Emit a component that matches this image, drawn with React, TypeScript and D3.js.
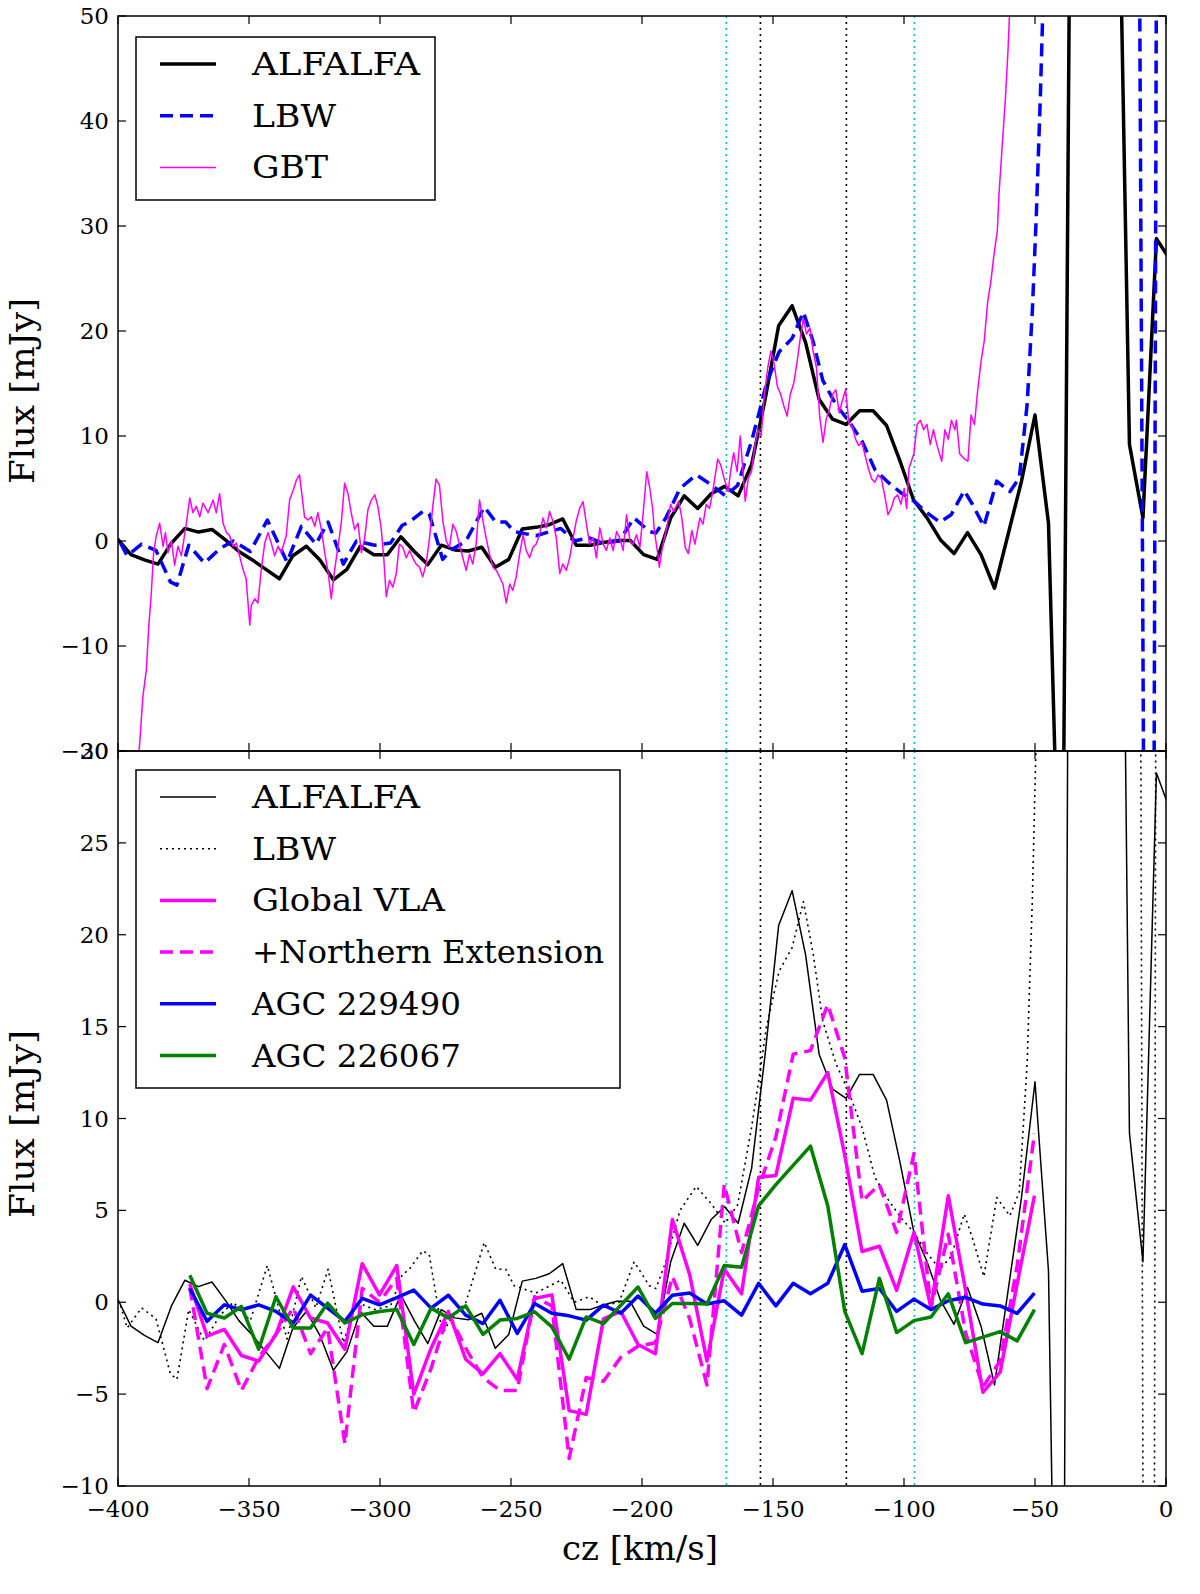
import React from "react";
import * as d3 from "d3";

// ---------------- DATA ----------------
const ALFALFA_CZ = [-400.2, -395.05, -389.9, -384.75, -379.6, -374.45, -369.3, -364.15, -359.0, -353.85, -348.7, -343.55, -338.4, -333.25, -328.1, -322.95, -317.8, -312.65, -307.5, -302.35, -297.2, -292.05, -286.9, -281.75, -276.6, -271.45, -266.3, -261.15, -256.0, -250.85, -245.7, -240.55, -235.4, -230.25, -225.1, -219.95, -214.8, -209.65, -204.5, -199.35, -194.2, -189.05, -183.9, -178.75, -173.6, -168.45, -163.3, -158.15, -153.0, -147.85, -142.7, -137.55, -132.4, -127.25, -122.1, -116.95, -111.8, -106.65, -101.5, -96.35, -91.2, -86.05, -80.9, -75.75, -70.6, -65.45, -60.3, -55.15, -50.0, -44.85, -39.7, -34.55, -29.4, -24.25, -19.1, -13.95, -8.8, -3.65, 1.5];
const ALFALFA_FLUX = [0.2, -1.3, -1.8, -2.2, -0.2, 1.2, 0.85, 1.1, 0.1, -1.0, -1.8, -2.7, -3.6, -1.4, -0.5, -1.8, -3.7, -2.7, -0.5, -1.3, -1.3, 0.4, -1.0, -2.25, -0.4, -0.85, -0.95, -0.6, -2.5, -1.75, 1.15, 1.3, 1.55, 2.1, -0.4, -0.4, -0.15, 0.05, 0.05, -1.3, -1.75, 2.2, 4.3, 3.1, 4.5, 5.2, 4.3, 7.3, 13.5, 20.5, 22.4, 18.9, 13.5, 11.6, 11.1, 12.4, 12.4, 11.0, 7.6, 3.9, 2.2, 0.1, -1.2, 0.8, -1.3, -4.5, 0.6, 5.7, 12.0, 1.7, -45, 135, 300, 300, 80, 9.2, 2.2, 28.8, 26.8];

const LBW_CZ = [-399, -396.5, -391, -385.5, -380, -377.5, -373, -367, -361, -356, -349.5, -343, -335.5, -330, -324.5, -319.8, -314, -309, -302, -296, -291.5, -288.8, -283.7, -281.2, -276.1, -272.9, -267.2, -260.2, -255.8, -252, -248.8, -240.5, -231, -225.9, -220.1, -215, -208.7, -203, -197.2, -194.7, -190.9, -185.5, -179.3, -173.8, -168.2, -163.5, -158.2, -155, -152.5, -147.7, -142.7, -138.4, -134.7, -131, -126, -121, -116, -111.1, -106.1, -101.2, -96.2, -91.3, -86.3, -82, -77, -73.9, -69.5, -64.6, -59.6, -56, -53, -51, -49.5, -48, -46.5, -44, -30, -20, -11, -6, -2, 0];
const LBW_FLUX = [-0.2, -1.4, -0.3, -0.9, -3.9, -4.2, -0.4, -2.1, -0.7, 0.0, -1.0, 2.0, -2.0, 1.4, -0.3, 1.8, -2.2, 0.0, -0.4, -0.2, 1.5, 1.8, 2.8, 2.6, -1.75, -0.85, 0.0, 3.25, 1.8, 1.8, 0.9, 0.5, 1.2, 0.0, 0.3, -0.2, 0.0, 2.2, 0.9, 0.75, 2.2, 5.0, 6.3, 5.4, 4.3, 5.3, 9.5, 12.5, 15.0, 18.0, 19.3, 21.8, 19.0, 15.3, 13.0, 11.4, 9.5, 6.8, 5.6, 4.6, 3.8, 2.7, 1.8, 2.5, 4.8, 3.5, 1.4, 5.7, 4.7, 6.0, 13.0, 22.0, 31.0, 42.0, 55.0, 90.0, 200.0, 200.0, 100.0, -150.0, 200.0, 200.0];

const GBT_CZ = [-392.6, -391.7, -390.5, -389.2, -388.3, -387.3, -386.4, -385.4, -384.1, -382.8, -381.9, -380.9, -379.6, -378.4, -377.1, -375.8, -373.9, -372.6, -371.4, -370.1, -368.8, -367.6, -365.6, -363.7, -362.5, -361.2, -359.9, -358.6, -357.4, -356.1, -354.8, -353.6, -352.3, -351.1, -349.7, -349.1, -347.8, -346.6, -345.3, -344.0, -342.7, -341.5, -340.2, -338.9, -337.7, -335.8, -334.5, -333.2, -331.9, -330.7, -330.0, -328.8, -327.5, -326.2, -324.9, -323.7, -322.4, -321.1, -319.8, -318.6, -317.3, -316.0, -314.8, -313.5, -312.2, -311.0, -309.7, -308.4, -307.1, -305.9, -304.6, -303.3, -302.0, -300.8, -299.5, -298.6, -297.6, -296.4, -295.1, -293.8, -292.6, -291.3, -290.0, -288.7, -287.5, -286.2, -284.9, -283.7, -282.4, -281.1, -279.8, -278.6, -277.3, -276.0, -274.7, -273.5, -272.2, -270.9, -269.7, -268.4, -267.1, -265.8, -264.6, -263.3, -262.0, -260.7, -259.5, -258.2, -256.9, -255.6, -254.4, -253.1, -251.8, -250.5, -249.3, -248.0, -246.7, -245.4, -244.2, -242.9, -241.6, -240.4, -239.1, -237.8, -236.5, -235.3, -234.0, -232.7, -231.4, -230.2, -228.9, -227.6, -226.3, -225.1, -223.8, -222.5, -221.2, -220.0, -218.7, -217.4, -216.1, -214.8, -213.6, -212.3, -211.0, -209.7, -208.5, -207.2, -205.9, -204.6, -203.4, -202.1, -200.8, -199.5, -198.2, -197.0, -195.9, -195.3, -194.0, -193.4, -192.2, -190.3, -189.1, -187.9, -186.0, -184.8, -183.5, -182.3, -181.0, -179.8, -177.9, -176.7, -175.5, -174.2, -173.0, -171.1, -169.9, -168.7, -167.1, -166.2, -165.0, -163.7, -162.5, -160.6, -159.4, -158.2, -156.9, -155.7, -154.5, -153.3, -152.0, -150.8, -149.6, -148.3, -147.1, -145.8, -144.6, -143.4, -142.1, -140.9, -139.6, -138.4, -137.2, -135.9, -134.7, -133.4, -132.2, -130.9, -129.7, -128.5, -127.2, -126.0, -124.7, -123.5, -122.3, -121.0, -119.8, -118.5, -117.3, -116.1, -114.8, -113.6, -112.3, -111.1, -109.9, -108.6, -107.4, -106.1, -104.9, -103.7, -102.4, -101.2, -99.9, -99.0, -98.1, -96.25, -95.0, -93.75, -92.5, -91.25, -90.0, -88.75, -87.5, -85.6, -84.4, -83.1, -81.9, -80.6, -80.0, -78.75, -76.9, -75.6, -74.4, -73.1, -71.9, -70.6, -69.4, -68.1, -66.9, -65.6, -64.4, -63.75, -62.5, -61.25, -60.25, -59.75, -58.5];
const GBT_FLUX = [-22, -19.2, -14.8, -12.3, -8.3, -5.0, -1.1, 0.5, 1.7, -0.5, 0.8, -1.1, 0.0, -2.3, -0.5, -1.4, 1.7, 4.1, 2.7, 3.3, 2.3, 3.6, 2.7, 3.9, 2.7, 4.5, 1.7, 0.8, 0.5, -0.5, -0.2, -1.4, -2.7, -3.6, -8.0, -6.1, -5.5, -5.9, -2.7, -0.2, 0.8, -0.2, -1.4, -0.5, -1.1, 0.5, 3.9, 4.8, 5.8, 6.3, 4.8, 2.3, 2.0, 2.3, 1.4, 2.7, 1.1, -1.1, -3.0, -5.5, -2.7, -0.5, 1.7, 5.5, 4.5, 2.7, 1.1, 1.7, -1.1, 0.2, 3.0, 3.9, 4.4, 3.3, 1.1, -1.5, -5.3, -3.75, -4.4, -3.1, -0.3, -0.6, -1.6, -0.9, -1.6, -2.2, -2.5, -3.4, -2.2, 0.3, 3.4, 5.9, 5.3, 1.9, 0.0, -0.6, 1.6, 0.9, -0.3, -1.6, -2.8, -1.25, -2.2, -0.3, 3.9, 1.9, 0.3, -1.25, -2.5, -2.8, -3.4, -4.1, -5.9, -4.1, -4.7, -3.4, -1.25, 0.6, -0.9, -1.6, -0.6, -0.3, 0.6, 2.2, 1.25, 2.8, 1.9, 0.3, -3.1, -2.2, -2.8, -1.6, 0.3, 1.9, 3.1, 3.75, 1.6, -0.3, 0.3, -1.6, 1.25, -0.3, -0.9, 0.3, -0.9, 0.9, 0.3, -0.9, 2.5, 0.0, -0.3, 0.6, -0.6, 2.8, 6.6, 5.0, 3.0, 1.0, -1.2, -2.5, -0.6, 1.6, 3.5, 2.8, 3.8, 2.2, -0.6, -1.2, 1.0, -0.3, 2.2, 1.6, 3.5, 3.1, 4.7, 7.8, 7.2, 6.0, 4.7, 6.6, 8.4, 6.6, 10.0, 3.8, 6.0, 6.6, 9.1, 10.6, 10.0, 14.0, 16.5, 18.1, 16.9, 14.7, 14.0, 12.8, 11.9, 14.0, 15.0, 16.9, 19.3, 21.2, 19.7, 20.3, 18.1, 16.5, 11.9, 9.4, 11.6, 12.5, 14.0, 14.4, 12.2, 13.4, 14.4, 11.2, 10.9, 9.7, 9.1, 9.4, 8.1, 6.9, 5.9, 5.6, 6.3, 5.9, 4.4, 2.5, 3.1, 4.1, 4.4, 3.5, 5.0, 3.1, 6.9, 8.3, 11.1, 11.5, 10.6, 11.1, 9.2, 10.6, 9.2, 7.6, 10.6, 9.7, 11.5, 10.6, 11.5, 8.3, 7.8, 7.6, 12.0, 11.1, 14.3, 17.1, 19.0, 22.7, 24.6, 27.4, 29.5, 33.0, 37.7, 42.3, 47.0, 50.0, 60.0];

const VLA_CZ = [-372.6, -366.0, -359.4, -352.9, -346.3, -339.7, -333.1, -326.5, -320.0, -313.4, -306.8, -300.2, -293.6, -287.1, -280.5, -273.9, -267.3, -260.7, -254.2, -247.6, -241.0, -234.4, -227.8, -221.3, -214.7, -208.1, -201.5, -194.9, -188.4, -181.8, -175.2, -168.6, -162.0, -155.5, -148.9, -142.3, -135.7, -129.1, -122.6, -116.0, -109.4, -102.8, -96.2, -89.7, -83.1, -76.5, -69.9, -63.3, -56.8, -50.2];
const GLOBAL_VLA = [1.0, -1.84, -1.48, -2.9, -3.2, -1.75, 0.84, -0.86, -1.13, -2.56, 2.1, 0.4, 2.0, -5.0, -2.5, -0.5, -3.1, -3.9, -2.8, -4.2, 0.2, 0.4, -5.9, -6.1, -0.9, -0.5, -2.3, -2.8, 4.5, 1.5, -3.2, 1.8, 0.46, 6.8, 6.9, 11.1, 11.0, 12.5, 8.0, 2.76, 3.05, 0.65, 3.8, -0.3, 5.8, 0.65, -4.9, -3.8, 1.0, 5.8];
const NORTH_EXT = [0.8, -4.7, -2.3, -4.8, -3.0, -1.75, -0.3, -2.8, -1.4, -7.7, 0.75, 0.0, 1.3, -6.0, -3.6, -0.6, -2.5, -4.1, -4.8, -4.8, 0.3, -0.2, -8.5, -4.1, -4.3, -3.0, -2.4, -2.2, 1.4, -0.9, -4.5, 6.4, 2.7, 6.2, 9.0, 13.5, 13.7, 16.2, 13.3, 5.5, 6.4, 3.8, 8.1, -0.3, 3.7, -1.65, -4.6, -3.2, 2.0, 9.2];
const AGC229490 = [0.75, -1.04, -0.14, -0.41, -0.14, -0.5, -1.13, 0.39, -0.32, -1.04, 0.21, -0.14, 0.25, 0.66, -0.32, 0.38, -0.7, -1.16, 0.11, -1.7, -0.07, -0.6, -0.74, -0.97, -0.16, -0.6, 0.34, -0.6, 0.38, 0.5, -0.1, 0.08, -0.7, 1.03, -0.2, 1.03, 0.46, 1.03, 3.14, 0.6, 0.75, -0.5, 0.17, -0.4, 0.08, 0.27, -0.1, -0.2, -0.6, 0.5];
const AGC226067 = [1.47, -0.6, -0.86, -0.23, -2.56, 0.3, -1.4, -1.4, -0.05, -1.13, -0.68, -0.5, -0.4, -2.3, -0.32, -0.85, -0.2, -1.75, -0.97, -0.88, -0.52, -1.34, -3.1, -0.8, -1.16, -0.16, 0.83, -0.88, -0.07, -0.07, -0.1, 2.0, 1.9, 5.25, 6.4, 7.45, 8.5, 5.25, -0.5, -2.8, 1.3, -1.65, -1.0, -0.8, 0.46, -2.2, -1.9, -1.6, -2.1, -0.4];

const VLINES_BLACK = [-154.8, -122.0];
const VLINES_CYAN = [-167.8, -96.0];

const X_TICKS = [-400, -350, -300, -250, -200, -150, -100, -50, 0];
const Y_TICKS_TOP = [-20, -10, 0, 10, 20, 30, 40, 50];
const Y_TICKS_BOT = [-10, -5, 0, 5, 10, 15, 20, 25, 30];

const TOP_LEGEND = ["ALFALFA", "LBW", "GBT"];
const BOT_LEGEND = ["ALFALFA", "LBW", "Global VLA", "+Northern Extension", "AGC 229490", "AGC 226067"];

// ---------------- LAYOUT ----------------
const W = 1200;
const H = 1594;
const L = 118;
const R = 1166;
const T = 16;
const M = 751;
const B = 1486;
const FONT = "'DejaVu Serif', serif";

const x = d3.scaleLinear().domain([-400, 0]).range([L, R]);
const yT = d3.scaleLinear().domain([-20, 50]).range([M, T]);
const yB = d3.scaleLinear().domain([-10, 30]).range([B, M]);

const fmt = (v: number) => (v < 0 ? "\u2212" + Math.abs(v) : String(v));

function pathFor(cz: number[], vals: number[], ys: d3.ScaleLinear<number, number>) {
  const pts = cz.map((c, i) => [c, vals[i]] as [number, number]);
  return d3
    .line<[number, number]>()
    .x((d) => x(d[0]))
    .y((d) => ys(d[1]))(pts) as string;
}

type Style = { stroke: string; width: number; dash?: string };

const TOP_STYLES: Style[] = [
  { stroke: "#000000", width: 3.5 },
  { stroke: "#0000ff", width: 3.5, dash: "13,7" },
  { stroke: "#ff00ff", width: 1.5 },
];
const BOT_STYLES: Style[] = [
  { stroke: "#000000", width: 1.5 },
  { stroke: "#000000", width: 1.6, dash: "2,4" },
  { stroke: "#ff00ff", width: 3.5 },
  { stroke: "#ff00ff", width: 3.5, dash: "13,7" },
  { stroke: "#0000ff", width: 3.5 },
  { stroke: "#008000", width: 3.5 },
];
const TOP_LEG_LEN = [168, 84, 76];
const BOT_LEG_LEN = [168, 84, 193, 352, 209, 209];

function Panel({ ys, top, bottom, ticks }: { ys: any; top: number; bottom: number; ticks: number[] }) {
  return (
    <g>
      {X_TICKS.map((t) => (
        <g key={"x" + t}>
          <line x1={x(t)} x2={x(t)} y1={bottom} y2={bottom - 8} stroke="#000" strokeWidth={1.2} />
          <line x1={x(t)} x2={x(t)} y1={top} y2={top + 8} stroke="#000" strokeWidth={1.2} />
        </g>
      ))}
      {ticks.map((t) => (
        <g key={"y" + t}>
          <line x1={L} x2={L + 8} y1={ys(t)} y2={ys(t)} stroke="#000" strokeWidth={1.2} />
          <line x1={R} x2={R - 8} y1={ys(t)} y2={ys(t)} stroke="#000" strokeWidth={1.2} />
          <text x={L - 9} y={ys(t) + 8} textAnchor="end" fontSize={23} fontFamily={FONT}>
            {fmt(t)}
          </text>
        </g>
      ))}
      <rect x={L} y={top} width={R - L} height={bottom - top} fill="none" stroke="#000" strokeWidth={1.5} />
    </g>
  );
}

function VLines({ top, bottom }: { top: number; bottom: number }) {
  return (
    <g>
      {VLINES_BLACK.map((v) => (
        <line key={"b" + v} x1={x(v)} x2={x(v)} y1={top} y2={bottom} stroke="#000" strokeWidth={1.6} strokeDasharray="2,4" />
      ))}
      {VLINES_CYAN.map((v) => (
        <line key={"c" + v} x1={x(v)} x2={x(v)} y1={top} y2={bottom} stroke="#00bfbf" strokeWidth={1.6} strokeDasharray="2,4" />
      ))}
    </g>
  );
}

function Legend({ x0, y0, w, h, labels, styles, lens }: { x0: number; y0: number; w: number; h: number; labels: string[]; styles: Style[]; lens: number[] }) {
  return (
    <g>
      <rect x={x0} y={y0} width={w} height={h} fill="#fff" stroke="#000" strokeWidth={1.5} />
      {labels.map((lab, i) => {
        const cy = y0 + 27 + i * 51.7;
        const s = styles[i];
        return (
          <g key={lab + i}>
            <line x1={x0 + 24} x2={x0 + 80} y1={cy} y2={cy} stroke={s.stroke} strokeWidth={s.width} strokeDasharray={s.dash} />
            <text x={x0 + 116} y={cy + 11} fontSize={31} fontFamily={FONT} textLength={lens[i]} lengthAdjust="spacingAndGlyphs">
              {lab}
            </text>
          </g>
        );
      })}
    </g>
  );
}

export default function App() {
  const topSeries = [
    { cz: ALFALFA_CZ, v: ALFALFA_FLUX },
    { cz: LBW_CZ, v: LBW_FLUX },
    { cz: GBT_CZ, v: GBT_FLUX },
  ];
  const botSeries = [
    { cz: ALFALFA_CZ, v: ALFALFA_FLUX },
    { cz: LBW_CZ, v: LBW_FLUX },
    { cz: VLA_CZ, v: GLOBAL_VLA },
    { cz: VLA_CZ, v: NORTH_EXT },
    { cz: VLA_CZ, v: AGC229490 },
    { cz: VLA_CZ, v: AGC226067 },
  ];
  return (
    <div>
      <style>{"body{margin:0;background:#fff}"}</style>
      <svg width={W} height={H} viewBox={`0 0 ${W} ${H}`} style={{ display: "block" }}>
        <rect x={0} y={0} width={W} height={H} fill="#fff" />
        <defs>
          <clipPath id="clipTop">
            <rect x={L} y={T} width={R - L} height={M - T} />
          </clipPath>
          <clipPath id="clipBot">
            <rect x={L} y={M} width={R - L} height={B - M} />
          </clipPath>
        </defs>
        <g clipPath="url(#clipTop)">
          <VLines top={T} bottom={M} />
          {topSeries.map((s, i) => (
            <path key={i} d={pathFor(s.cz, s.v, yT)} fill="none" stroke={TOP_STYLES[i].stroke} strokeWidth={TOP_STYLES[i].width} strokeDasharray={TOP_STYLES[i].dash} strokeLinejoin="round" />
          ))}
        </g>
        <g clipPath="url(#clipBot)">
          <VLines top={M} bottom={B} />
          {botSeries.map((s, i) => (
            <path key={i} d={pathFor(s.cz, s.v, yB)} fill="none" stroke={BOT_STYLES[i].stroke} strokeWidth={BOT_STYLES[i].width} strokeDasharray={BOT_STYLES[i].dash} strokeLinejoin="round" />
          ))}
        </g>
        <Panel ys={yT} top={T} bottom={M} ticks={Y_TICKS_TOP} />
        <Panel ys={yB} top={M} bottom={B} ticks={Y_TICKS_BOT} />
        {X_TICKS.map((t) => (
          <text key={"xl" + t} x={x(t)} y={B + 31} textAnchor="middle" fontSize={23} fontFamily={FONT}>
            {fmt(t)}
          </text>
        ))}
        <Legend x0={136} y0={37} w={299} h={163} labels={TOP_LEGEND} styles={TOP_STYLES} lens={TOP_LEG_LEN} />
        <Legend x0={136} y0={770} w={484} h={318} labels={BOT_LEGEND} styles={BOT_STYLES} lens={BOT_LEG_LEN} />
        <text transform={`translate(34,391) rotate(-90)`} textAnchor="middle" fontSize={34} fontFamily={FONT} textLength={186} lengthAdjust="spacingAndGlyphs">
          Flux [mJy]
        </text>
        <text transform={`translate(34,1124) rotate(-90)`} textAnchor="middle" fontSize={34} fontFamily={FONT} textLength={188} lengthAdjust="spacingAndGlyphs">
          Flux [mJy]
        </text>
        <text x={640} y={1560} textAnchor="middle" fontSize={34} fontFamily={FONT} textLength={156} lengthAdjust="spacingAndGlyphs">
          cz [km/s]
        </text>
      </svg>
    </div>
  );
}
